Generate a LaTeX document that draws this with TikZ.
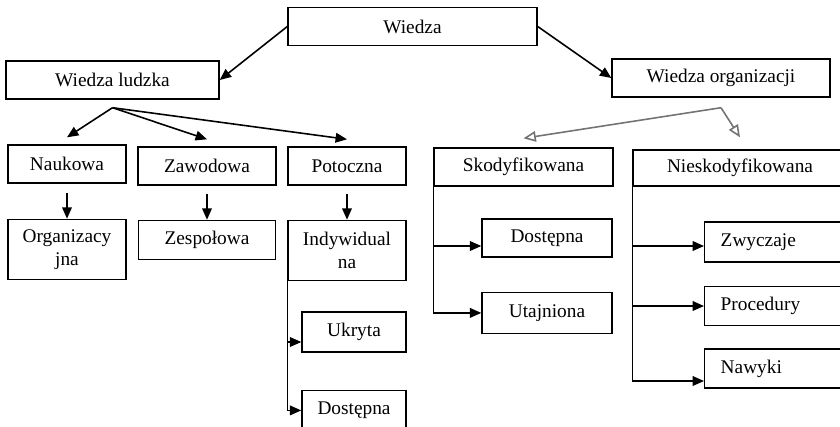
\documentclass[tikz,border=0pt]{standalone}
\usepackage{fontspec}
\setmainfont{Liberation Serif}
\usetikzlibrary{positioning, arrows.meta}

\begin{document}
\begin{tikzpicture}[
    x=0.2mm, y=-0.2mm,
    every node/.style={font=\fontsize{11}{13}\selectfont},
    box/.style={rectangle, draw, line width=0.8pt, align=center, inner sep=2pt, minimum width=#1, minimum height=7.6mm},
    box/.default=23.6mm,
    tall/.style={box=#1, minimum height=12mm},
    leftbox/.style={rectangle, draw, line width=0.8pt, text width=30mm, align=left, inner xsep=3.2mm, minimum height=7.8mm, anchor=west},
    arr/.style={-{Triangle[length=6.5pt, width=5.5pt]}, line width=0.9pt},
    openarr/.style={-{Triangle[open, length=7pt, width=6pt]}, line width=0.9pt, black!55},
]
\useasboundingbox (0,0) rectangle (840,426);
\clip (0,0) rectangle (840,426);

% top level
\node[box=49.8mm] (wiedza) at (412.5,26.5) {Wiedza};
\node[box=42.6mm] (ludzka) at (112.5,80) {Wiedza ludzka};
\node[box=43.6mm] (org) at (721,78) {Wiedza organizacji};

% wiedza ludzka branch
\node[box] (naukowa) at (67,164) {Naukowa};
\node[box=27.6mm] (zawodowa) at (207,166) {Zawodowa};
\node[box] (potoczna) at (347,166) {Potoczna};
\node[tall=23.6mm, below=7mm of naukowa] (organizacyjna) {Organizacy\\jna};
\node[box=27.4mm, minimum height=7.8mm, below=6.8mm of zawodowa] (zespolowa) {Zespołowa};
\node[tall=23.6mm, below=6.8mm of potoczna] (indyw) {Indywidual\\na};
\node[box=20.8mm, minimum height=8mm] (ukryta) at (354,332) {Ukryta};
\node[box=20.8mm, minimum height=8mm, below=7.4mm of ukryta] (dostL) {Dostępna};

% wiedza organizacji branch
\node[box=35.8mm] (skod) at (523.5,167) {Skodyfikowana};
\node[box=42.8mm, minimum height=7.2mm] (niesk) at (740,168) {Nieskodyfikowana};
\node[box=26mm] (dostR) at (547,238) {Dostępna};
\node[box=26mm, minimum height=8.2mm, below=6.8mm of dostR] (utaj) {Utajniona};
\node[leftbox, minimum height=8mm] (zwyczaje) at (704,242) {Zwyczaje};
\node[leftbox] (procedury) at (704,306) {Procedury};
\node[leftbox] (nawyki) at (704,368.5) {Nawyki};

% top arrows
\draw[arr] (wiedza.west) -- (ludzka.east);
\draw[arr] (wiedza.east) -- (org.west);

% fan below wiedza ludzka
\coordinate (fanL) at ([yshift=-1.6mm]ludzka.south);
\draw[arr] (fanL) -- ([yshift=1.4mm]naukowa.north);
\draw[arr] (fanL) -- ([yshift=1.4mm]zawodowa.north);
\draw[arr] (fanL) -- ([yshift=1.4mm]potoczna.north);

% short down arrows
\draw[arr, shorten <=1.8mm] (naukowa.south) -- (organizacyjna.north);
\draw[arr, shorten <=1.6mm] (zawodowa.south) -- (zespolowa.north);
\draw[arr, shorten <=1.6mm] (potoczna.south) -- (indyw.north);

% rail under indywidualna
\draw[arr] (indyw.south west) |- ([yshift=-2mm]ukryta.west);
\draw[arr] (indyw.south west) |- (dostL.west);

% fan below wiedza organizacji (open tips)
\coordinate (fanR) at ([yshift=-2mm]org.south);
\draw[openarr] (fanR) -- ([yshift=1.8mm]skod.north);
\draw[openarr] (fanR) -- ([yshift=2.4mm]niesk.north);

% rails on the right
\draw[arr] (skod.south west) |- ([yshift=-1.6mm]dostR.west);
\draw[arr] (skod.south west) |- (utaj.west);
\draw[arr] (niesk.south west) |- ([yshift=-0.8mm]zwyczaje.west);
\draw[arr] (niesk.south west) |- (procedury.west);
\draw[arr] (niesk.south west) |- ([yshift=-2.5mm]nawyki.west);

\end{tikzpicture}
\end{document}
